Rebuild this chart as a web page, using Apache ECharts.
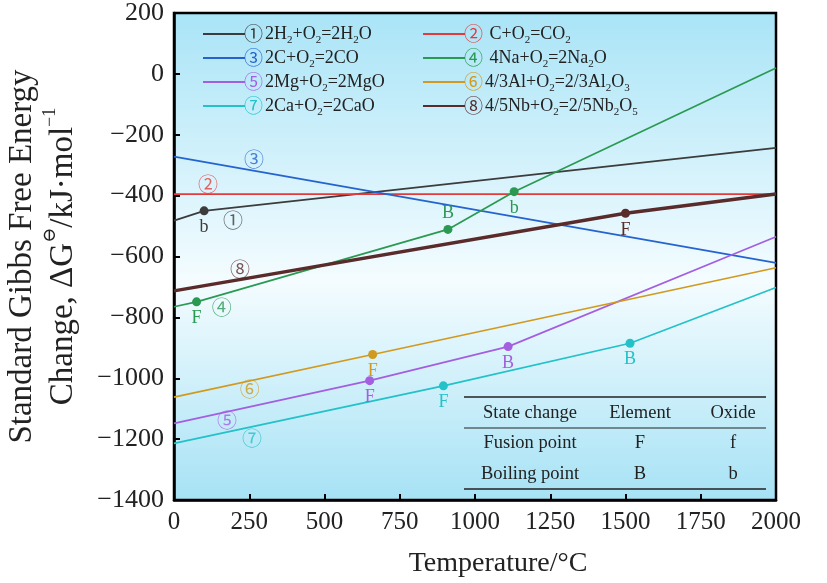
<!DOCTYPE html>
<html>
<head>
<meta charset="utf-8">
<script src="https://cdn.jsdelivr.net/npm/echarts@6/dist/echarts.min.js"></script>
<style>
html, body { margin: 0; padding: 0; background: #fff; }
#chart { width: 827px; height: 583px; }
</style>
</head>
<body>
<div id="chart"></div>
<script>
// 各反应的 ΔG-T 折线 (温度/°C, kJ/mol)
var h2o  = [[0, -482], [100, -450], [2000, -243]];
var co2  = [[0, -395], [2000, -395]];
var co   = [[0, -272], [2000, -621]];
var na2o = [[0, -765], [75, -749], [910, -511], [1130, -387], [2000, 19]];
var mgo  = [[0, -1148], [650, -1008], [1110, -896], [2000, -535]];
var al2o3 = [[0, -1062], [660, -922], [2000, -637]];
var cao  = [[0, -1214], [895, -1025], [1515, -885], [2000, -702]];
var nb2o5 = [[0, -713], [1500, -458], [2000, -395]];

// 相变点标记: 序号 -> 字母, 标签位置
var h2oMarks  = { 1: ['b', 'bottom'] };
var na2oMarks = { 1: ['F', 'bottom'], 2: ['B', 'top'], 3: ['b', 'bottom'] };
var mgoMarks  = { 1: ['F', 'bottom'], 2: ['B', 'bottom'] };
var al2o3Marks = { 1: ['F', 'bottom'] };
var caoMarks  = { 1: ['F', 'bottom'], 2: ['B', 'bottom'] };
var nb2o5Marks = { 1: ['F', 'bottom'] };

var seriesNames = ['r1', 'r2', 'r3', 'r4', 'r5', 'r6', 'r7', 'r8'];
var legendTexts = [
	'{n1|①}2H{s|2}+O{s|2}=2H{s|2}O',
	'{n2|②} C+O{s|2}=CO{s|2}',
	'{n3|③}2C+O{s|2}=2CO',
	'{n4|④} 4Na+O{s|2}=2Na{s|2}O',
	'{n5|⑤}2Mg+O{s|2}=2MgO',
	'{n6|⑥}4/3Al+O{s|2}=2/3Al{s|2}O{s|3}',
	'{n7|⑦}2Ca+O{s|2}=2CaO',
	'{n8|⑧}4/5Nb+O{s|2}=2/5Nb{s|2}O{s|5}'
];
var colors = ['#3c3c3c', '#e33b3b', '#2563cf', '#2a9a52', '#a45ee0', '#d19a1e', '#22c2c8', '#5a2b2b'];

// 曲线上的圈号标签
var tagNames = ['①', '②', '③', '④', '⑤', '⑥', '⑦', '⑧'];
var tagPos = [[196, -480], [113, -362], [266, -280], [159, -766], [176, -1137], [252, -1038], [259, -1196], [219, -644]];

// 表格
var tableHead = ['State change', 'Element', 'Oxide'];
var tableRows = [['Fusion point', 'F', 'f'], ['Boiling point', 'B', 'b']];

var yMin = -1400, yMax = 200;

var serif = '"Liberation Serif", "DejaVu Serif", serif';
var circ = '"Noto Sans CJK SC", "DejaVu Sans", sans-serif';

function buildData(arr, marks, color) {
	var out = [];
	for (var i = 0; i < arr.length; i++) {
		var m = marks[i];
		if (m) {
			out.push({
				value: arr[i],
				symbol: 'circle',
				symbolSize: 9,
				itemStyle: { color: color },
				label: {
					show: true,
					formatter: m[0],
					position: m[1],
					distance: 3,
					color: color,
					fontFamily: serif,
					fontSize: 18
				}
			});
		} else {
			out.push({ value: arr[i], symbol: 'none' });
		}
	}
	return out;
}

var lineData = [h2o, co2, co, na2o, mgo, al2o3, cao, nb2o5];
var lineMarks = [h2oMarks, {}, {}, na2oMarks, mgoMarks, al2o3Marks, caoMarks, nb2o5Marks];

var series = [];
for (var i = 0; i < 8; i++) {
	series.push({
		name: seriesNames[i],
		type: 'line',
		symbol: 'none',
		color: colors[i],
		lineStyle: { width: i == 7 ? 3.5 : 1.7, color: colors[i] },
		data: buildData(lineData[i], lineMarks[i], colors[i]),
		z: 3
	});
}

var tagData = [];
for (var i = 0; i < tagNames.length; i++) {
	tagData.push({
		name: tagNames[i],
		value: tagPos[i],
		label: { color: colors[i] }
	});
}
series.push({
	name: 'tags',
	type: 'scatter',
	symbolSize: 0,
	data: tagData,
	label: {
		show: true,
		position: 'inside',
		formatter: '{b}',
		fontSize: 20,
		fontFamily: circ
	},
	z: 4
});

var richLegend = { s: { fontSize: 11, fontFamily: serif, color: '#222', verticalAlign: 'bottom', lineHeight: 24 } };
for (var i = 0; i < 8; i++) {
	richLegend['n' + (i + 1)] = { color: colors[i], fontSize: 19, fontFamily: circ, padding: [0, 2, 0, 0] };
}

function legendFmt(name) {
	return legendTexts[seriesNames.indexOf(name)];
}

function makeLegend(names, left) {
	return {
		data: names,
		orient: 'vertical',
		left: left,
		top: 17,
		itemWidth: 42,
		itemHeight: 14,
		itemGap: 0,
		icon: 'path://M0,6 L40,6 L40,8 L0,8 Z',
		formatter: legendFmt,
		selectedMode: false,
		textStyle: {
			fontFamily: serif,
			fontSize: 18,
			color: '#222',
			lineHeight: 24,
			padding: [0, 0, 0, -6],
			rich: richLegend
		}
	};
}

function minus(v) {
	return String(v).replace('-', '−');
}

var chart = echarts.init(document.getElementById('chart'));

// 表格 (像素)
var tx0 = 464, tx1 = 766, ty0 = 397, ty1 = 428, ty2 = 489;
var colX = [530, 640, 733];
var rowY = [413, 443, 474];
var graphics = [
	{ type: 'line', shape: { x1: tx0, y1: ty0, x2: tx1, y2: ty0 }, style: { stroke: '#222', lineWidth: 1.5 } },
	{ type: 'line', shape: { x1: tx0, y1: ty1, x2: tx1, y2: ty1 }, style: { stroke: '#222', lineWidth: 1 } },
	{ type: 'line', shape: { x1: tx0, y1: ty2, x2: tx1, y2: ty2 }, style: { stroke: '#222', lineWidth: 1.5 } }
];
var allRows = [tableHead].concat(tableRows);
for (var r = 0; r < allRows.length; r++) {
	for (var c = 0; c < 3; c++) {
		graphics.push({
			type: 'text',
			x: colX[c],
			y: rowY[r],
			style: {
				text: allRows[r][c],
				fill: '#222',
				font: '18.5px ' + serif,
				align: 'center',
				verticalAlign: 'middle'
			},
			z: 10
		});
	}
}

var option = {
	animation: false,
	grid: {
		left: 174,
		right: 51,
		top: 13,
		bottom: 83,
		containLabel: false,
		outerBoundsMode: 'none',
		show: true,
		borderColor: '#000',
		borderWidth: 2.5,
		backgroundColor: new echarts.graphic.LinearGradient(0, 0, 0, 1, [
			{ offset: 0, color: '#a9e4f7' },
			{ offset: 0.55, color: '#f4fcff' },
			{ offset: 1, color: '#a6e2f5' }
		])
	},
	legend: [
		makeLegend(['r1', 'r3', 'r5', 'r7'], 198),
		makeLegend(['r2', 'r4', 'r6', 'r8'], 418)
	],
	xAxis: {
		type: 'value',
		min: 0,
		max: 2000,
		interval: 250,
		name: 'Temperature/°C',
		nameLocation: 'middle',
		nameGap: 50,
		nameTextStyle: { fontFamily: serif, fontSize: 28, color: '#222', padding: [0, 0, 0, 46] },
		axisLine: { show: true, onZero: false, lineStyle: { color: '#000', width: 2.5 } },
		axisTick: { show: true, inside: true, length: 6, lineStyle: { color: '#000', width: 2 } },
		axisLabel: { fontFamily: serif, fontSize: 25, color: '#222', margin: 10, formatter: function (v) { return String(v); } },
		splitLine: { show: false }
	},
	yAxis: {
		type: 'value',
		min: yMin,
		max: yMax,
		interval: 200,
		name: '{t|Standard Gibbs Free Energy}\n{t|Change, ΔG}{p|⊖}{t|/kJ·mol}{p|−1}',
		nameLocation: 'middle',
		nameGap: 89,
		nameTextStyle: {
			fontFamily: serif,
			fontSize: 33,
			color: '#222',
			rich: {
				t: { fontFamily: serif, fontSize: 33, color: '#222', lineHeight: 38 },
				p: { fontFamily: serif, fontSize: 18, color: '#222', verticalAlign: 'top', lineHeight: 44 }
			}
		},
		axisLine: { show: true, onZero: false, lineStyle: { color: '#000', width: 2.5 } },
		axisTick: { show: true, inside: true, length: 6, lineStyle: { color: '#000', width: 2 } },
		axisLabel: { fontFamily: serif, fontSize: 26, color: '#222', margin: 10, formatter: minus },
		splitLine: { show: false }
	},
	graphic: graphics,
	series: series
};
chart.setOption(option);
</script>
</body>
</html>
